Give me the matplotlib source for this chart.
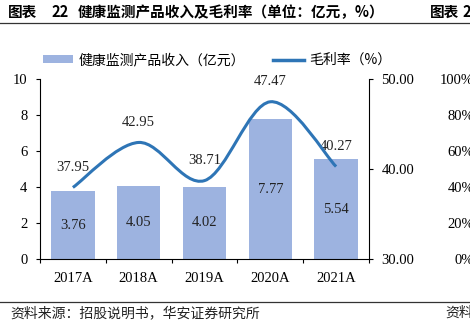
import matplotlib.pyplot as plt
from matplotlib.path import Path
from matplotlib.patches import PathPatch, Patch
from matplotlib.lines import Line2D

plt.rcParams['font.family'] = ['Liberation Serif', 'Noto Sans CJK SC']

years = ['2017A', '2018A', '2019A', '2020A', '2021A']
revenue = [3.76, 4.05, 4.02, 7.77, 5.54]
margin = [37.95, 42.95, 38.71, 47.47, 40.27]
rev_ticks = [0, 2, 4, 6, 8, 10]
margin_ticks = [30, 40, 50]
pct_ticks = ['0%', '20%', '40%', '60%', '80%', '100%']

bar_color = '#9db3e0'
line_color = '#2e75b6'
cjk = ['Noto Sans CJK SC', 'DejaVu Sans']

W, H = 470, 329
fig = plt.figure(figsize=(W / 100, H / 100), dpi=100)

# main axes
ax = fig.add_axes([40 / W, 1 - 259 / H, (369 - 40) / W, (259 - 79) / H])
x = list(range(len(years)))
ax.bar(x, revenue, width=0.66, color=bar_color, zorder=2)
for i, v in enumerate(revenue):
    ax.text(i, v / 2, '%.2f' % v, ha='center', va='center', fontsize=10.5, color='#222222', zorder=3)

ax.set_xlim(-0.5, len(years) - 0.5)
ax.set_ylim(0, 10)
ax.set_yticks(rev_ticks)
ax.set_yticklabels([str(t) for t in rev_ticks])
ax.set_xticks([i - 0.5 for i in range(len(years) + 1)])
ax.set_xticklabels([])
ax.set_xticks(x, minor=True)
ax.set_xticklabels(years, minor=True)
ax.tick_params(axis='x', which='major', direction='out', length=3, width=0.8)
ax.tick_params(axis='x', which='minor', length=0, pad=9, labelsize=10.5)
ax.tick_params(axis='y', direction='out', length=3, width=0.8, pad=6, labelsize=10.5)
for s in ['top', 'right']:
    ax.spines[s].set_visible(False)
for s in ['left', 'bottom']:
    ax.spines[s].set_linewidth(0.8)

# margin line on right axis, smoothed like excel
ax2 = ax.twinx()
ax2.set_ylim(30, 50)
ax2.set_yticks(margin_ticks)
ax2.set_yticklabels(['%.2f' % t for t in margin_ticks])
ax2.tick_params(axis='y', direction='out', length=3, width=0.8, pad=6, labelsize=10.5)
for s in ['top', 'left', 'bottom']:
    ax2.spines[s].set_visible(False)
ax2.spines['right'].set_linewidth(0.8)

pts = list(zip(x, margin))
verts = [pts[0]]
codes = [Path.MOVETO]
n = len(pts)
for i in range(n - 1):
    p0 = pts[i - 1] if i > 0 else pts[i]
    p1 = pts[i]
    p2 = pts[i + 1]
    p3 = pts[i + 2] if i + 2 < n else pts[i + 1]
    c1 = (p1[0] + (p2[0] - p0[0]) / 6, p1[1] + (p2[1] - p0[1]) / 6)
    c2 = (p2[0] - (p3[0] - p1[0]) / 6, p2[1] - (p3[1] - p1[1]) / 6)
    verts += [c1, c2, p2]
    codes += [Path.CURVE4] * 3
ax2.add_patch(PathPatch(Path(verts, codes), facecolor='none', edgecolor=line_color,
                        lw=2.2, capstyle='butt', zorder=4))
for i, v in enumerate(margin):
    ax2.annotate('%.2f' % v, (i, v), xytext=(0, 14.5), textcoords='offset points',
                 ha='center', va='center', fontsize=10.5, color='#222222')

# legend
handles = [Patch(facecolor=bar_color, edgecolor='none'),
           Line2D([], [], color=line_color, lw=2.5)]
fig.legend(handles, ['健康监测产品收入（亿元）', '毛利率（%）'], loc='center',
           bbox_to_anchor=(217 / W, 1 - 60 / H), ncol=2, frameon=False,
           prop={'family': cjk, 'size': 10}, handlelength=2.2, handleheight=0.45,
           columnspacing=2.0, handletextpad=0.4)

# neighbouring chart's axis, cut off at the right edge
ax3 = fig.add_axes([474 / W, 1 - 259 / H, 0.01, (259 - 79) / H])
ax3.set_ylim(0, 100)
ax3.set_yticks([0, 20, 40, 60, 80, 100])
ax3.set_yticklabels(pct_ticks)
ax3.tick_params(axis='y', length=0, pad=0, labelsize=10.5)
ax3.set_xticks([])
for s in ax3.spines.values():
    s.set_visible(False)
ax3.patch.set_visible(False)

# titles, rules and source
title_kw = dict(fontsize=10.5, fontweight='bold', family=cjk, va='center', ha='left')
fig.text(8 / W, 1 - 12 / H, '图表', **title_kw)
fig.text(51 / W, 1 - 12 / H, '22', **title_kw)
fig.text(78 / W, 1 - 12 / H, '健康监测产品收入及毛利率（单位：亿元，%）', **title_kw)
fig.text(430 / W, 1 - 12 / H, '图表', **title_kw)
fig.text(462 / W, 1 - 12 / H, '22', **title_kw)
fig.add_artist(Line2D([0, 1], [1 - 23 / H] * 2, transform=fig.transFigure, color='#333333', lw=0.9))
fig.add_artist(Line2D([0, 1], [1 - 302 / H] * 2, transform=fig.transFigure, color='#333333', lw=0.9))
fig.text(10 / W, 1 - 313 / H, '资料来源：招股说明书，华安证券研究所', fontsize=10, family=cjk,
         va='center', ha='left', color='#222222')
fig.text(445 / W, 1 - 313 / H, '资料来源', fontsize=10, family=cjk, va='center', ha='left',
         color='#222222')

fig.savefig('out.png', dpi=100)
